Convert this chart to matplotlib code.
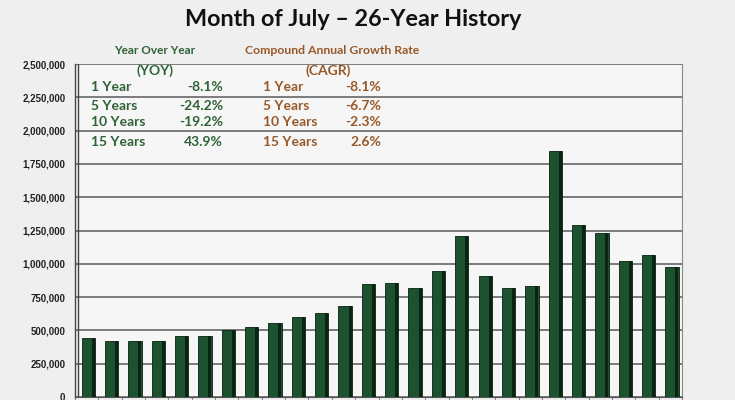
import numpy as np
import matplotlib
matplotlib.use("Agg")
import matplotlib.pyplot as plt
from matplotlib.ticker import FuncFormatter, MultipleLocator

# July totals, 26 years
values = [440000, 422000, 422000, 420000, 457000, 456000, 500000, 525000,
          552000, 602000, 627000, 680000, 852000, 853000, 817000, 948000,
          1210000, 907000, 822000, 830000, 1845000, 1290000, 1232000,
          1022000, 1065000, 977000]

yoy_labels = ["1 Year", "5 Years", "10 Years", "15 Years"]
yoy_values = ["-8.1%", "-24.2%", "-19.2%", "43.9%"]
cagr_labels = ["1 Year", "5 Years", "10 Years", "15 Years"]
cagr_values = ["-8.1%", "-6.7%", "-2.3%", "2.6%"]

TITLE = "Month of July \u2013 26-Year History"
GREEN_TXT = "#2f6236"
BROWN_TXT = "#98592a"
BAR = "#1d5230"
BAR_DARK = "#0a2412"

W, H = 735, 400
fig = plt.figure(figsize=(W / 100, H / 100), dpi=100)
fig.patch.set_facecolor("#efefef")


def px(x, y):
    return x / W, 1 - y / H


# axes box in pixels: left 75, right 682, top 64, bottom 397
l, r, t, b = 75, 682, 64, 397
ax = fig.add_axes([l / W, 1 - b / H, (r - l) / W, (b - t) / H])
ax.set_facecolor("#f6f6f6")

x = np.arange(len(values))
ax.bar(x + 0.07, values, width=0.57, color=BAR, edgecolor="#0a1f10", linewidth=0.6, zorder=3)
ax.bar(x + 0.28, values, width=0.13, color=BAR_DARK, linewidth=0, zorder=4)

ax.set_xlim(-0.5, len(values) - 0.5)
ax.set_ylim(0, 2500000)
ax.yaxis.set_major_locator(MultipleLocator(250000))
ax.yaxis.set_major_formatter(FuncFormatter(lambda v, p: f"{int(v):,}"))
ax.grid(axis="y", color="#5a5a5a", linewidth=1.1, zorder=1)

ax.set_xticks(np.arange(len(values) + 1) - 0.5)
ax.set_xticklabels([])
ax.tick_params(axis="x", length=4, color="#888888", direction="out")
ax.tick_params(axis="y", length=0, pad=7, labelsize=7)
for lab in ax.get_yticklabels():
    lab.set_fontfamily("Liberation Sans")
    lab.set_fontweight("bold")
    lab.set_color("#222222")

ax.spines["top"].set_visible(False)
ax.spines["right"].set_color("#888888")
ax.spines["bottom"].set_color("#555555")
ax.spines["left"].set_color("#444444")
ax.spines["left"].set_linewidth(1.0)
# double line on the left axis
ax.axvline(-0.5 + 0.12, color="#444444", linewidth=1.0, zorder=5)

fig.text(*px(353, 20), TITLE, ha="center", va="center", fontsize=16.8,
         fontweight="bold", family=["Lato", "DejaVu Sans"], color="#111111")

hdr_font = ["Liberation Sans Narrow", "Lato", "DejaVu Sans"]
fig.text(*px(155, 51), "Year Over Year", ha="center", va="center", fontsize=8.5,
         fontweight="bold", family=hdr_font, color=GREEN_TXT)
fig.text(*px(155, 71), "(YOY)", ha="center", va="center", fontsize=10,
         fontweight="bold", family=["Lato", "DejaVu Sans"], color=GREEN_TXT)
fig.text(*px(332, 51), "Compound Annual Growth Rate", ha="center", va="center",
         fontsize=8.8, fontweight="bold", family=hdr_font, color=BROWN_TXT)
fig.text(*px(328, 71), "(CAGR)", ha="center", va="center", fontsize=10,
         fontweight="bold", family=["Lato", "DejaVu Sans"], color=BROWN_TXT)

row_font = dict(fontsize=10, fontweight="bold", family=["Lato", "DejaVu Sans"])
row_y = [87, 106, 122, 142]
for i, yy in enumerate(row_y):
    fig.text(*px(91, yy), yoy_labels[i], ha="left", va="center", color=GREEN_TXT, **row_font)
    fig.text(*px(223, yy), yoy_values[i], ha="right", va="center", color=GREEN_TXT, **row_font)
    fig.text(*px(263, yy), cagr_labels[i], ha="left", va="center", color=BROWN_TXT, **row_font)
    fig.text(*px(381, yy), cagr_values[i], ha="right", va="center", color=BROWN_TXT, **row_font)

fig.savefig("out.png", dpi=100, facecolor=fig.get_facecolor())
